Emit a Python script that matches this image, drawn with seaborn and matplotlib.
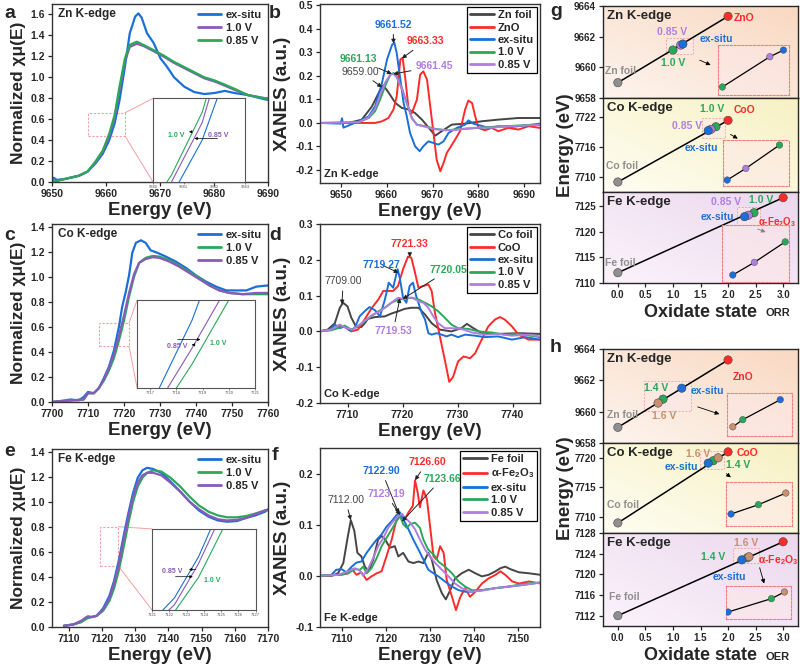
import numpy as np
import matplotlib
matplotlib.use("Agg")
import matplotlib.pyplot as plt
import seaborn as sns
from matplotlib.patches import Rectangle, ConnectionPatch
from matplotlib.colors import LinearSegmentedColormap

sns.set_style("ticks")
plt.rcParams['font.family'] = ['Liberation Sans', 'DejaVu Sans']
plt.rcParams['font.weight'] = 'bold'
plt.rcParams['axes.labelweight'] = 'bold'
plt.rcParams['mathtext.fontset'] = 'custom'
plt.rcParams['mathtext.rm'] = 'Liberation Sans:bold'
plt.rcParams['mathtext.it'] = 'Liberation Sans:bold'
plt.rcParams['mathtext.bf'] = 'Liberation Sans:bold'
plt.rcParams['axes.linewidth'] = 1.0

W, H = 800, 665

BLUE = '#1a6fd8'
GREEN = '#2aa85a'
PURPLE = '#8a5ab8'
LILAC = '#b07ee0'
RED = '#ff2a2a'
DARK = '#454545'
GREY = '#8f8f8f'
TAN = '#c8906e'

# ---------------- panel a: Zn K-edge normalized ----------------
a_ex_e = [9650, 9650.3, 9650.9, 9652.5, 9655, 9656.6, 9658.1, 9659.4, 9660.6, 9661.6, 9662.5,
          9663.5, 9664.4, 9665.4, 9666, 9666.6, 9667.6, 9668.8, 9670.1, 9671.3, 9672.6, 9674.5,
          9676.3, 9678.2, 9680.1, 9682, 9683.8, 9686.3, 9689.4, 9690.5]
a_ex_mu = [0.01, 0.04, 0.02, 0.03, 0.06, 0.1, 0.18, 0.27, 0.4, 0.56, 0.78,
           1.10, 1.42, 1.58, 1.61, 1.57, 1.42, 1.33, 1.18, 1.10, 1.0, 0.91,
           0.86, 0.84, 0.85, 0.87, 0.85, 0.83, 0.79, 0.78]
a_v_e = [9650, 9652.5, 9655, 9656.6, 9658.1, 9659.4, 9660.6, 9661.6, 9662.5, 9663.5, 9664.4,
         9665.7, 9666.9, 9668.8, 9670.6, 9672.5, 9674.4, 9676.3, 9678.2, 9680.1, 9682, 9683.8,
         9686.3, 9689.4, 9690.5]
a_085_mu = [0.0, 0.03, 0.06, 0.1, 0.2, 0.3, 0.46, 0.64, 0.91, 1.18, 1.31,
            1.34, 1.31, 1.26, 1.21, 1.15, 1.10, 1.05, 1.0, 0.97, 0.93, 0.89,
            0.83, 0.80, 0.80]
a_10_mu = [0.0, 0.03, 0.06, 0.1, 0.19, 0.29, 0.44, 0.61, 0.88, 1.15, 1.29,
           1.32, 1.30, 1.25, 1.20, 1.14, 1.09, 1.04, 0.99, 0.96, 0.92, 0.88,
           0.83, 0.80, 0.79]

# ---------------- panel c: Co K-edge normalized ----------------
c_ex_e = [7700, 7703.7, 7705.1, 7707.4, 7708.8, 7710, 7711.6, 7713, 7714.4, 7715.8, 7717.2,
          7718.6, 7719.5, 7720.5, 7721.4, 7722.3, 7723.3, 7724.7, 7726, 7727.4, 7729.3, 7731.6,
          7734.4, 7737.2, 7740, 7742.8, 7745.6, 7748.4, 7751.2, 7754, 7756.7, 7760]
c_ex_mu = [0.0, 0.013, 0.02, 0.013, 0.04, 0.08, 0.07, 0.11, 0.19, 0.28, 0.41,
           0.6, 0.76, 0.88, 1.01, 1.19, 1.27, 1.29, 1.27, 1.21, 1.19, 1.16,
           1.12, 1.07, 1.01, 0.96, 0.92, 0.89, 0.89, 0.89, 0.92, 0.93]
c_v_e = [7700, 7705.6, 7708.8, 7710, 7711.6, 7713, 7714.4, 7715.8, 7717.2, 7718.6, 7720,
         7721.4, 7722.8, 7724.2, 7726, 7727.9, 7729.8, 7732.6, 7735.3, 7738.1, 7740.9, 7743.7,
         7746.5, 7749.3, 7753, 7756.7, 7760]
c_10_mu = [0.0, 0.013, 0.02, 0.07, 0.07, 0.11, 0.17, 0.25, 0.35, 0.49, 0.65,
           0.84, 1.0, 1.11, 1.15, 1.165, 1.16, 1.13, 1.09, 1.04, 0.99, 0.93,
           0.89, 0.87, 0.86, 0.86, 0.86]
c_085_mu = [0.0, 0.013, 0.02, 0.07, 0.07, 0.11, 0.18, 0.27, 0.38, 0.53, 0.69,
            0.87, 1.02, 1.11, 1.14, 1.155, 1.15, 1.12, 1.08, 1.03, 0.98, 0.93,
            0.89, 0.87, 0.86, 0.87, 0.87]

# ---------------- panel e: Fe K-edge normalized ----------------
e_e = [7108.6, 7111.4, 7113.8, 7115.7, 7117.1, 7118.5, 7120.4, 7122.3, 7123.7, 7125.1, 7126.5,
       7128, 7129.4, 7130.8, 7132.2, 7133.6, 7135.5, 7137.9, 7140.7, 7143.6, 7146.4, 7149.2,
       7152.1, 7154.9, 7157.7, 7160.6, 7163.4, 7166.2, 7169.1, 7170.8]
e_ex_mu = [0.01, 0.02, 0.04, 0.08, 0.08, 0.09, 0.15, 0.25, 0.37, 0.53, 0.72,
           0.91, 1.07, 1.19, 1.25, 1.27, 1.26, 1.23, 1.16, 1.08, 1.0, 0.93,
           0.88, 0.85, 0.84, 0.845, 0.87, 0.89, 0.92, 0.95]
e_10_mu = [0.01, 0.02, 0.04, 0.07, 0.08, 0.09, 0.13, 0.21, 0.31, 0.45, 0.63,
           0.83, 1.0, 1.12, 1.19, 1.23, 1.25, 1.24, 1.19, 1.12, 1.04, 0.97,
           0.92, 0.89, 0.875, 0.875, 0.885, 0.905, 0.93, 0.94]
e_085_mu = [0.01, 0.02, 0.05, 0.085, 0.08, 0.09, 0.14, 0.23, 0.35, 0.5, 0.69,
            0.88, 1.04, 1.15, 1.21, 1.23, 1.23, 1.21, 1.15, 1.08, 1.0, 0.94,
            0.89, 0.86, 0.85, 0.855, 0.87, 0.9, 0.93, 0.945]

# ---------------- panel b: Zn XANES derivative ----------------
b_foil_e = [9645.6, 9651.7, 9654.6, 9656.8, 9658.6, 9659.3, 9660.4, 9661.9, 9663.3, 9664.8, 9666.2,
            9667.7, 9669.5, 9670.6, 9672, 9674.2, 9677.1, 9680.7, 9684.3, 9688.7, 9693.4]
b_foil = [0, 0, 0.014, 0.07, 0.14, 0.16, 0.13, 0.085, 0.064, 0.057, 0.042,
          0.014, -0.028, -0.054, -0.035, -0.007, -0.003, 0.007, 0.014, 0.021, 0.021]
b_zno_e = [9645.6, 9657.5, 9659, 9660.4, 9661.5, 9662.2, 9663, 9663.5, 9664.1, 9664.8, 9665.5,
           9666.6, 9667.3, 9668, 9668.8, 9669.5, 9670.2, 9670.9, 9671.7, 9672.4, 9673.1, 9673.8,
           9674.9, 9676, 9677.1, 9677.8, 9678.6, 9679.3, 9680, 9681.4, 9682.9, 9684.3, 9686.5,
           9688.7, 9690.9, 9693.4]
b_zno = [0, 0, 0.007, 0.021, 0.057, 0.113, 0.27, 0.276, 0.184, 0.057, 0.042,
         0.099, 0.205, 0.219, 0.184, 0.071, -0.042, -0.156, -0.205, -0.17, -0.127, -0.106,
         -0.071, -0.035, 0.057, 0.095, 0.085, 0.028, -0.021, -0.031, -0.021, -0.035, -0.021,
         -0.028, -0.014, -0.021]
b_ex_e = [9645.6, 9650.0, 9650.3, 9650.6, 9653.9, 9656.1, 9657.5, 9659, 9660.1, 9661.2, 9661.7,
          9662.2, 9663, 9663.7, 9664.4, 9665.1, 9666.2, 9667.2, 9668, 9669.1, 9670.2, 9671.3,
          9672.4, 9673.5, 9675.3, 9677.1, 9677.8, 9678.9, 9680.4, 9682.2, 9684.3, 9687.2, 9690.1,
          9693.4]
b_ex = [0, -0.003, 0.02, -0.02, 0.007, 0.028, 0.071, 0.17, 0.27, 0.332, 0.34,
        0.297, 0.184, 0.085, 0.028, -0.042, -0.099, -0.12, -0.099, -0.078, -0.085, -0.092,
        -0.078, -0.042, -0.021, -0.007, 0.011, -0.003, -0.011, -0.021, -0.014, -0.017, -0.011,
        -0.003]
b_v_e = [9645.6, 9653.9, 9656.1, 9657.5, 9658.6, 9659.7, 9660.8, 9661.5, 9662.2, 9663.3, 9664.4,
         9665.5, 9666.6, 9668.4, 9670.6, 9672.8, 9675, 9677.1, 9680, 9682.9, 9685.8, 9688.7,
         9693.4]
b_10 = [0, 0.003, 0.021, 0.05, 0.1, 0.158, 0.205, 0.212, 0.198, 0.149, 0.085,
        0.021, -0.007, -0.014, -0.025, -0.031, -0.028, -0.025, -0.021, -0.017, -0.014, -0.011,
        -0.007]
b_085 = [0, 0.003, 0.024, 0.06, 0.12, 0.172, 0.205, 0.208, 0.194, 0.146, 0.083,
         0.02, -0.008, -0.016, -0.027, -0.03, -0.03, -0.024, -0.02, -0.02, -0.016, -0.012,
         -0.008]
b_peaks = [9659.00, 9663.33, 9661.52, 9661.13, 9661.45]

# ---------------- panel d: Co XANES derivative ----------------
d_foil_e = [7704.9, 7706.4, 7707.7, 7708.6, 7709.2, 7710, 7710.7, 7711.6, 7712.5, 7713.1, 7713.7,
            7715, 7716.8, 7718, 7719.2, 7720.4, 7721.6, 7722.9, 7724.1, 7725.3, 7726.8, 7728.9,
            7730.7, 7731.7, 7732.9, 7734.4, 7737.4, 7741.1, 7745]
d_foil = [0, 0.005, 0.023, 0.066, 0.08, 0.07, 0.038, 0.012, 0.012, 0.022, 0.035,
          0.04, 0.042, 0.05, 0.056, 0.063, 0.066, 0.066, 0.047, 0.023, 0.005, 0,
          0.009, 0.021, 0.009, -0.005, -0.007, -0.005, -0.007]
d_coo_e = [7704.9, 7707, 7708.3, 7709.5, 7710.7, 7711.9, 7713.1, 7714.3, 7715.6, 7716.5, 7717.4,
           7718.3, 7719.2, 7720.1, 7721, 7721.6, 7722.2, 7722.9, 7723.8, 7724.7, 7725.3, 7725.9,
           7726.8, 7727.7, 7728.5, 7729.2, 7730.1, 7731.1, 7732.3, 7733.2, 7734.4, 7735.6, 7736.8,
           7737.7, 7738.6, 7739.9, 7741.1, 7742.9, 7745]
d_coo = [0, 0.005, 0.016, 0.012, 0, 0.005, 0.033, 0.063, 0.089, 0.113, 0.113,
         0.113, 0.127, 0.174, 0.209, 0.206, 0.169, 0.122, 0.127, 0.131, 0.113, 0.052,
         -0.014, -0.08, -0.141, -0.127, -0.084, -0.07, -0.075, -0.061, -0.023, 0.014, 0.033,
         0.04, 0.033, 0.014, -0.009, -0.023, -0.023]
d_ex_e = [7704.9, 7706.8, 7707.7, 7708.6, 7709.5, 7710.4, 7711.3, 7712.2, 7713.1, 7714, 7715,
          7715.9, 7716.8, 7717.5, 7718.3, 7719.1, 7719.5, 7720.1, 7720.7, 7721.3, 7721.9, 7722.5,
          7723.5, 7724.1, 7724.7, 7725.3, 7726.2, 7727.1, 7728, 7728.9, 7730.1, 7731.4, 7733.2,
          7735, 7737.4, 7739.9, 7742.3, 7745]
d_ex = [0, 0.005, 0.019, 0.009, 0.014, 0.003, 0.009, 0.042, 0.056, 0.068, 0.059,
        0.042, 0.089, 0.136, 0.122, 0.174, 0.15, 0.094, 0.08, 0.127, 0.136, 0.098,
        0.052, 0.033, -0.005, -0.009, -0.005, -0.009, -0.014, -0.009, -0.016, -0.009, -0.012,
        -0.016, -0.014, -0.023, -0.016, -0.023]
d_10_e = [7704.9, 7707, 7708.3, 7709.5, 7710.7, 7711.9, 7713.1, 7714.3, 7715.6, 7716.8, 7718,
          7719.2, 7720.4, 7721.6, 7722.9, 7724.1, 7725.3, 7726.5, 7727.7, 7728.9, 7730.1, 7732,
          7733.8, 7736.2, 7738.6, 7741.1, 7745]
d_10 = [0, 0.003, 0.009, 0.016, 0.005, 0.014, 0.028, 0.042, 0.056, 0.066, 0.08,
        0.089, 0.091, 0.094, 0.089, 0.08, 0.07, 0.056, 0.038, 0.019, 0.009, 0.007,
        0, -0.003, -0.009, -0.007, -0.016]
d_085_e = [7704.9, 7707, 7708.6, 7709.8, 7711, 7712.2, 7713.4, 7714.6, 7715.9, 7717.1, 7718.3,
           7719.2, 7720.1, 7721, 7721.9, 7722.9, 7723.8, 7724.7, 7725.6, 7726.5, 7727.7, 7728.9,
           7730.7, 7732.6, 7735, 7737.4, 7739.9, 7742.9, 7745]
d_085 = [0, 0.005, 0.019, 0.009, 0.005, 0.019, 0.033, 0.047, 0.056, 0.07, 0.084,
         0.094, 0.091, 0.094, 0.094, 0.084, 0.08, 0.066, 0.042, 0.023, 0.009, 0.009,
         0.007, -0.003, -0.009, -0.007, -0.012, -0.009, -0.014]
d_peaks = [7709.00, 7721.33, 7719.27, 7720.05, 7719.53]

# ---------------- panel f: Fe XANES derivative ----------------
f_foil_e = [7104.9, 7107.6, 7109.1, 7110.3, 7111.2, 7112, 7112.8, 7113.5, 7114.4, 7115.2, 7116,
            7117.1, 7118.2, 7119, 7119.8, 7120.9, 7122, 7122.8, 7123.9, 7125.1, 7126.2, 7127.4,
            7128.5, 7129.6, 7130.4, 7131.5, 7132.7, 7133.6, 7134.6, 7135.7, 7137.2, 7138.8,
            7140.3, 7141.8, 7143.3, 7144.9, 7146, 7147.1, 7148.3, 7150.2, 7152.5, 7155.1]
f_foil = [0, 0, 0.005, 0.025, 0.071, 0.109, 0.088, 0.045, 0.038, 0.018, 0.009,
          0.032, 0.071, 0.078, 0.071, 0.055, 0.058, 0.038, 0.045, 0.028, 0.025, 0.028,
          0.025, 0.045, 0.032, -0.008, -0.034, -0.046, -0.028, -0.005, 0.005, 0.012,
          0.005, -0.001, 0.002, 0.009, 0.015, 0.018, 0.013, 0.007, 0.005, 0.002]
f_ox_e = [7104.9, 7109.9, 7111.4, 7112.3, 7113.3, 7114.4, 7115.6, 7116.7, 7117.9, 7119, 7120.1,
          7121.3, 7122.4, 7123.6, 7124.3, 7125.1, 7126.1, 7126.6, 7127.2, 7127.7, 7128.5, 7129.3,
          7130, 7130.8, 7131.5, 7132.3, 7133.1, 7133.8, 7135, 7135.9, 7136.9, 7138, 7139.1,
          7140.3, 7141.8, 7143.3, 7144.9, 7146, 7147.1, 7148.7, 7150.2, 7152.5, 7155.1]
f_ox = [0, 0.002, 0.005, 0.013, 0.002, 0.007, -0.008, -0.001, 0.005, 0.009, 0.038,
        0.071, 0.111, 0.121, 0.111, 0.124, 0.137, 0.187, 0.163, 0.134, 0.167, 0.15,
        0.098, 0.038, 0.032, 0.058, 0.045, -0.008, -0.041, -0.067, -0.041, -0.024, -0.041,
        -0.031, -0.015, -0.005, 0.002, 0.009, 0.002, -0.011, -0.015, -0.011, -0.015]
f_ex_e = [7104.9, 7107.6, 7108.7, 7109.9, 7111, 7112.2, 7113.3, 7114.4, 7115.6, 7116.7, 7117.9,
          7119, 7120.1, 7121.3, 7122.4, 7123.2, 7123.9, 7125.1, 7126.2, 7127.4, 7128.5, 7129.6,
          7130.8, 7131.9, 7133.4, 7135, 7136.5, 7138, 7139.5, 7141.8, 7144.9, 7147.9, 7150.9,
          7155.1]
f_ex = [0, 0.002, 0.012, 0.013, 0.007, 0.018, 0.026, 0.028, 0.045, 0.058, 0.071,
        0.081, 0.096, 0.107, 0.119, 0.124, 0.111, 0.091, 0.071, 0.051, 0.032, 0.012,
        0.005, -0.001, -0.011, -0.021, -0.028, -0.031, -0.031, -0.028, -0.024, -0.021, -0.018,
        -0.013]
f_10_e = [7104.9, 7109.1, 7111.4, 7112.9, 7114.1, 7114.8, 7115.6, 7116.7, 7117.9, 7119, 7120.1,
          7121.3, 7122.4, 7123.2, 7123.9, 7124.7, 7125.5, 7126.6, 7127.7, 7128.5, 7129.6, 7130.8,
          7131.9, 7133.4, 7135, 7136.5, 7138, 7139.5, 7141.8, 7144.9, 7147.9, 7150.9, 7155.1]
f_10 = [0, 0.002, 0.005, 0.013, 0.012, 0.018, 0.005, 0.015, 0.035, 0.058, 0.074,
        0.091, 0.107, 0.117, 0.101, 0.094, 0.101, 0.104, 0.094, 0.071, 0.051, 0.042,
        0.028, 0.018, 0.005, -0.011, -0.021, -0.028, -0.028, -0.024, -0.021, -0.016, -0.013]
f_085_e = [7104.9, 7109.1, 7111.4, 7112.9, 7114.1, 7114.8, 7116, 7117.1, 7118.2, 7119.4, 7120.5,
           7121.7, 7122.8, 7123.6, 7124.3, 7125.5, 7126.6, 7127.7, 7128.9, 7130, 7131.2, 7132.7,
           7134.2, 7135.7, 7137.2, 7139.1, 7141.8, 7144.9, 7147.9, 7150.9, 7155.1]
f_085 = [0, 0.002, 0.009, 0.015, 0.01, 0, 0.015, 0.035, 0.058, 0.074, 0.094,
         0.107, 0.117, 0.121, 0.114, 0.104, 0.091, 0.071, 0.051, 0.038, 0.025, 0.012,
         -0.001, -0.015, -0.024, -0.031, -0.029, -0.024, -0.021, -0.018, -0.013]
f_peaks = [7112.00, 7126.60, 7122.90, 7123.66, 7123.19]

# ---------------- panels g / h: edge energy vs oxidation state ----------------
# order: foil, potential 1, potential 2, ex-situ, oxide
g_zn_x = [0.0, 1.0, 1.14, 1.18, 2.0]
g_zn_e = [9659.00, 9661.13, 9661.45, 9661.52, 9663.33]
g_co_x = [0.0, 1.78, 1.69, 1.64, 2.0]
g_co_e = [7709.00, 7720.05, 7719.53, 7719.27, 7721.33]
g_fe_x = [0.0, 2.47, 2.37, 2.30, 3.0]
g_fe_e = [7112.00, 7123.66, 7123.19, 7122.90, 7126.60]
h_zn_x = [0.0, 0.82, 0.73, 1.16, 2.0]
h_zn_e = [9659.0, 9660.8, 9660.55, 9661.5, 9663.3]
h_co_x = [0.0, 1.73, 1.82, 1.64, 2.0]
h_co_e = [7709.0, 7719.5, 7720.0, 7719.1, 7721.0]
h_fe_x = [0.0, 2.35, 2.38, 2.25, 3.0]
h_fe_e = [7112.0, 7123.2, 7123.4, 7122.8, 7126.3]

fig = plt.figure(figsize=(8, 6.65), dpi=100)


def px_axes(l, t, r, b):
    return fig.add_axes([l / W, 1 - b / H, (r - l) / W, (b - t) / H])


def curve(ax, e, y, color, label=None, lw=1.5):
    sns.lineplot(x=e, y=y, ax=ax, color=color, lw=lw, label=label,
                 sort=False, estimator=None, legend=False)


def base_style(ax, xlim, ylim, xticks, yticks, fmt='%.1f'):
    ax.set_xlim(xlim)
    ax.set_ylim(ylim)
    ax.set_xticks(xticks)
    ax.set_yticks(yticks)
    ax.set_yticklabels([fmt % v for v in yticks])
    ax.tick_params(labelsize=7.5, length=3, width=0.9, pad=2, direction='out')
    for s in ax.spines.values():
        s.set_linewidth(1.0)
        s.set_color('#333333')
    ax.set_xlabel('Energy (eV)', fontsize=13.5, labelpad=2)


def spectra_inset(ax, rect, curves, xlim, ylim, xticks, box, texts, arrows):
    ins = ax.inset_axes(rect)
    for e, y, c in curves:
        curve(ins, e, y, c, lw=0.8)
    ins.set_xlim(xlim)
    ins.set_ylim(ylim)
    ins.set_xticks(xticks)
    ins.set_xticklabels([str(t) for t in xticks], fontsize=3, fontweight='normal')
    ins.set_yticks([])
    ins.tick_params(length=1.5, width=0.5, pad=1, colors='#555555')
    ins.set_xlabel('')
    ins.set_ylabel('')
    for s in ins.spines.values():
        s.set_linewidth(0.8)
        s.set_color('#555555')
    for t, x, y, c in texts:
        ins.text(x, y, t, transform=ins.transAxes, color=c, fontsize=5, va='center')
    for (x0, y0), (x1, y1) in arrows:
        ins.annotate('', xy=(x1, y1), xytext=(x0, y0), xycoords='axes fraction',
                     arrowprops=dict(arrowstyle='-|>', color='k', lw=0.5, mutation_scale=4))
    (bx0, bx1), (by0, by1) = box
    ax.add_patch(Rectangle((bx0, by0), bx1 - bx0, by1 - by0, fill=False, ec='#f4a0a0',
                           lw=0.8, ls=(0, (2, 1.5))))
    for yy, iy in ((by1, 1), (by0, 0)):
        con = ConnectionPatch(xyA=(bx1, yy), coordsA=ax.transData, xyB=(0, iy),
                              coordsB=ins.transAxes, color='#f4a0a0', lw=0.7)
        ax.add_artist(con)


def norm_panel(ax, curves, legend_order, xlim, ylim, xticks, yticks, edge):
    for e, y, c, lab in curves:
        curve(ax, e, y, c, label=lab, lw=1.6)
    base_style(ax, xlim, ylim, xticks, yticks)
    ax.set_ylabel('Normalized χμ(E)', fontsize=12.5, labelpad=3)
    ax.text(0.03, 0.975, edge, transform=ax.transAxes, va='top', fontsize=8.5)
    hd, lb = ax.get_legend_handles_labels()
    order = [lb.index(l) for l in legend_order]
    leg = ax.legend([hd[i] for i in order], [lb[i] for i in order], loc='upper right',
                    frameon=False, fontsize=8, handlelength=2.1, labelspacing=0.25,
                    borderaxespad=0.15, handletextpad=0.4)
    for ln in leg.get_lines():
        ln.set_linewidth(2.0)


def xanes_panel(ax, curves, xlim, ylim, xticks, yticks, edge, notes):
    for e, y, c, lab in curves:
        curve(ax, e, y, c, label=lab, lw=1.4)
    base_style(ax, xlim, ylim, xticks, yticks)
    ax.set_ylabel('XANES (a.u.)', fontsize=13.5, labelpad=3)
    ax.text(0.02, 0.02, edge, transform=ax.transAxes, va='bottom', fontsize=8)
    leg = ax.legend(loc='upper right', frameon=True, fancybox=False, edgecolor='k',
                    framealpha=1, fontsize=8, handlelength=2.2, labelspacing=0.22,
                    borderaxespad=0.25, handletextpad=0.3, borderpad=0.3)
    leg.get_frame().set_linewidth(0.9)
    for ln in leg.get_lines():
        ln.set_linewidth(2.0)
    for (e, y, c), peak, (tx, ty), ha in notes:
        py = np.interp(peak, e, y)
        wt = 'normal' if c == DARK else 'bold'
        ax.annotate('%.2f' % peak, xy=(peak, py), xytext=(tx, ty), color=c, fontsize=7.5,
                    ha=ha, va='center', fontweight=wt,
                    arrowprops=dict(arrowstyle='-|>', color='#222222', lw=0.7,
                                    mutation_scale=6, shrinkA=1, shrinkB=0))


# ---------------- draw a ----------------
ax_a = px_axes(52, 4, 268, 182)
norm_panel(ax_a, [(a_ex_e, a_ex_mu, BLUE, 'ex-situ'), (a_v_e, a_10_mu, PURPLE, '1.0 V'),
                  (a_v_e, a_085_mu, GREEN, '0.85 V')],
           ['ex-situ', '1.0 V', '0.85 V'], (9650, 9690), (0, 1.7),
           [9650, 9660, 9670, 9680, 9690], [0, 0.2, 0.4, 0.6, 0.8, 1.0, 1.2, 1.4, 1.6], 'Zn K-edge')
spectra_inset(ax_a, [0.468, 0.0, 0.426, 0.47],
              [(a_v_e, a_085_mu, GREEN), (a_v_e, a_10_mu, PURPLE), (a_ex_e, a_ex_mu, BLUE)],
              (9660, 9663), (0.44, 0.68), [9660, 9661, 9662, 9663],
              ((9656.6, 9663.5), (0.44, 0.66)),
              [('1.0 V', 0.16, 0.55, GREEN), ('0.85 V', 0.6, 0.56, PURPLE)],
              [((0.45, 0.6), (0.36, 0.6)), ((0.73, 0.52), (0.42, 0.52))])

# ---------------- draw c ----------------
ax_c = px_axes(52, 224, 268, 402)
norm_panel(ax_c, [(c_ex_e, c_ex_mu, BLUE, 'ex-situ'), (c_v_e, c_10_mu, GREEN, '1.0 V'),
                  (c_v_e, c_085_mu, PURPLE, '0.85 V')],
           ['ex-situ', '1.0 V', '0.85 V'], (7700, 7760), (0, 1.42),
           [7700, 7710, 7720, 7730, 7740, 7750, 7760], [0, 0.2, 0.4, 0.6, 0.8, 1.0, 1.2, 1.4],
           'Co K-edge')
spectra_inset(ax_c, [0.394, 0.079, 0.546, 0.494],
              [(c_ex_e, c_ex_mu, BLUE), (c_v_e, c_085_mu, PURPLE), (c_v_e, c_10_mu, GREEN)],
              (7716.5, 7721), (0.43, 0.65), [7717, 7718, 7719, 7720, 7721],
              ((7713, 7721.4), (0.445, 0.63)),
              [('0.85 V', 0.25, 0.47, PURPLE), ('1.0 V', 0.62, 0.5, GREEN)],
              [((0.32, 0.55), (0.56, 0.55)), ((0.5, 0.49), (0.44, 0.49))])

# ---------------- draw e ----------------
ax_e = px_axes(52, 449, 268, 627)
norm_panel(ax_e, [(e_e, e_ex_mu, BLUE, 'ex-situ'), (e_e, e_10_mu, GREEN, '1.0 V'),
                  (e_e, e_085_mu, PURPLE, '0.85 V')],
           ['ex-situ', '1.0 V', '0.85 V'], (7105, 7170), (0, 1.42),
           [7110, 7120, 7130, 7140, 7150, 7160, 7170], [0, 0.2, 0.4, 0.6, 0.8, 1.0, 1.2, 1.4],
           'Fe K-edge')
spectra_inset(ax_e, [0.463, 0.096, 0.48, 0.455],
              [(e_e, e_ex_mu, BLUE), (e_e, e_085_mu, PURPLE), (e_e, e_10_mu, GREEN)],
              (7121, 7127), (0.215, 0.45), [7121, 7122, 7123, 7124, 7125, 7126, 7127],
              ((7119.3, 7125), (0.485, 0.8)),
              [('0.85 V', 0.1, 0.47, PURPLE), ('1.0 V', 0.5, 0.36, GREEN)],
              [((0.45, 0.5), (0.33, 0.5)), ((0.2, 0.41), (0.42, 0.41))])

# ---------------- draw b ----------------
ax_b = px_axes(320, 4, 540, 183)
xanes_panel(ax_b, [(b_foil_e, b_foil, DARK, 'Zn foil'), (b_zno_e, b_zno, RED, 'ZnO'),
                   (b_ex_e, b_ex, BLUE, 'ex-situ'), (b_v_e, b_10, GREEN, '1.0 V'),
                   (b_v_e, b_085, LILAC, '0.85 V')],
            (9645.5, 9693.4), (-0.255, 0.505), [9650, 9660, 9670, 9680, 9690],
            [-0.2, -0.1, 0.0, 0.1, 0.2, 0.3, 0.4, 0.5], 'Zn K-edge',
            [((b_foil_e, b_foil, DARK), b_peaks[0], (9654.3, 0.218), 'center'),
             ((b_zno_e, b_zno, RED), b_peaks[1], (9668.4, 0.347), 'center'),
             ((b_ex_e, b_ex, BLUE), b_peaks[2], (9661.4, 0.417), 'center'),
             ((b_v_e, b_10, GREEN), b_peaks[3], (9653.8, 0.27), 'center'),
             ((b_v_e, b_085, LILAC), b_peaks[4], (9670.4, 0.24), 'center')])

# ---------------- draw d ----------------
ax_d = px_axes(320, 224, 540, 403)
xanes_panel(ax_d, [(d_foil_e, d_foil, DARK, 'Co foil'), (d_coo_e, d_coo, RED, 'CoO'),
                   (d_ex_e, d_ex, BLUE, 'ex-situ'), (d_10_e, d_10, GREEN, '1.0 V'),
                   (d_085_e, d_085, LILAC, '0.85 V')],
            (7705, 7745), (-0.2, 0.3), [7710, 7720, 7730, 7740],
            [-0.2, -0.1, 0.0, 0.1, 0.2, 0.3], 'Co K-edge',
            [((d_foil_e, d_foil, DARK), d_peaks[0], (7709.2, 0.14), 'center'),
             ((d_coo_e, d_coo, RED), d_peaks[1], (7721.3, 0.245), 'center'),
             ((d_ex_e, d_ex, BLUE), d_peaks[2], (7716.2, 0.186), 'center'),
             ((d_10_e, d_10, GREEN), d_peaks[3], (7731.8, 0.172), 'right'),
             ((d_085_e, d_085, LILAC), d_peaks[4], (7718.3, 0.0), 'center')])

# ---------------- draw f ----------------
ax_f = px_axes(320, 448, 540, 627)
xanes_panel(ax_f, [(f_foil_e, f_foil, DARK, 'Fe foil'),
                   (f_ox_e, f_ox, RED, r'α-Fe$_2$O$_3$'),
                   (f_ex_e, f_ex, BLUE, 'ex-situ'), (f_10_e, f_10, GREEN, '1.0 V'),
                   (f_085_e, f_085, LILAC, '0.85 V')],
            (7105, 7155), (-0.1, 0.25), [7110, 7120, 7130, 7140, 7150],
            [-0.1, 0.0, 0.1, 0.2], 'Fe K-edge',
            [((f_foil_e, f_foil, DARK), f_peaks[0], (7110.8, 0.148), 'center'),
             ((f_ox_e, f_ox, RED), f_peaks[1], (7129.3, 0.222), 'center'),
             ((f_ex_e, f_ex, BLUE), f_peaks[2], (7119.0, 0.205), 'center'),
             ((f_10_e, f_10, GREEN), f_peaks[3], (7137.0, 0.19), 'right'),
             ((f_085_e, f_085, LILAC), f_peaks[4], (7120.0, 0.16), 'center')])


# ---------------- g / h ----------------
def gradient_bg(ax, c0, c1):
    cmap = LinearSegmentedColormap.from_list('bg', [c0, c1])
    g = np.add.outer(np.linspace(1, 0, 50), np.linspace(0, 1, 80)) / 2
    ax.imshow(g, extent=[0, 1, 0, 1], transform=ax.transAxes, aspect='auto',
              cmap=cmap, zorder=0, interpolation='bicubic')


def state_axes(ax, xs, es, cols, ylim, yticks, edge, texts, small, arrow, big, zoom, bg):
    gradient_bg(ax, *bg)
    sns.lineplot(x=[xs[0], xs[-1]], y=[es[0], es[-1]], ax=ax, color='k', lw=1.1,
                 estimator=None, sort=False, zorder=2)
    keys = ['p%d' % i for i in range(len(xs))]
    pal = dict(zip(keys, cols))
    sns.scatterplot(x=xs, y=es, hue=keys, palette=pal, ax=ax, s=36, edgecolor='#444444',
                    linewidth=0.4, legend=False, zorder=3)
    ax.set_xlim(-0.27, 3.27)
    ax.set_ylim(ylim)
    ax.set_yticks(yticks)
    ax.set_xticks([0, 0.5, 1.0, 1.5, 2.0, 2.5, 3.0])
    ax.set_xticklabels(['0.0', '0.5', '1.0', '1.5', '2.0', '2.5', '3.0'])
    ax.tick_params(labelsize=7, length=3, width=0.9, pad=2)
    ax.set_xlabel('')
    ax.set_ylabel('')
    ax.text(0.02, 0.96, edge, transform=ax.transAxes, va='top', fontsize=9.5)
    for t, x, y, c, ha in texts:
        ax.text(x, y, t, color=c, fontsize=7.5, ha=ha, va='center', zorder=4)
    (sx0, sx1), (sy0, sy1) = small
    ax.add_patch(Rectangle((sx0, sy0), sx1 - sx0, sy1 - sy0, fc='#fde8e8', ec='#f08080',
                           lw=0.7, ls=(0, (2, 1.5)), alpha=0.6, zorder=1))
    ax.annotate('', xy=arrow[1], xytext=arrow[0],
                arrowprops=dict(arrowstyle='-|>', color='k', lw=0.6, mutation_scale=6))
    (bx0, bx1), (by0, by1) = big
    ins = ax.inset_axes([bx0, by0, bx1 - bx0, by1 - by0], transform=ax.transData)
    ins.set_facecolor('#fde6e6')
    ins.patch.set_alpha(0.55)
    mids = sorted(zip(xs[1:4], es[1:4]))
    sns.lineplot(x=[m[0] for m in mids], y=[m[1] for m in mids], ax=ins, color='k', lw=0.9,
                 estimator=None, sort=False)
    sns.scatterplot(x=xs[1:4], y=es[1:4], hue=keys[1:4], palette=pal, ax=ins, s=22,
                    edgecolor='#444444', linewidth=0.3, legend=False, zorder=3)
    ins.set_xlim(zoom[0])
    ins.set_ylim(zoom[1])
    ins.set_xticks([])
    ins.set_yticks([])
    ins.set_xlabel('')
    ins.set_ylabel('')
    for s in ins.spines.values():
        s.set_color('#f08080')
        s.set_linewidth(0.8)
        s.set_linestyle((0, (2, 1.5)))


BG_ZN = ('#fdf4ee', '#f9d9c2')
BG_CO = ('#fefdf2', '#f8f1c4')
BG_FE = ('#fbf3fb', '#ecd8ee')
FE2O3 = r'α-Fe$_2$O$_3$'

g_cols = [GREY, GREEN, LILAC, BLUE, RED]
h_cols = [GREY, GREEN, TAN, BLUE, RED]

g1 = px_axes(603, 6, 798, 98)
g2 = px_axes(603, 98, 798, 192)
g3 = px_axes(603, 192, 798, 283)
state_axes(g1, g_zn_x, g_zn_e, g_cols, (9658, 9664), [9658, 9660, 9662, 9664], 'Zn K-edge',
           [('Zn foil', 0.05, 9659.75, GREY, 'center'), ('0.85 V', 0.98, 9662.3, LILAC, 'center'),
            ('ex-situ', 1.78, 9661.85, BLUE, 'center'), ('1.0 V', 1.0, 9660.3, GREEN, 'center'),
            ('ZnO', 2.1, 9663.2, RED, 'left')],
           ((0.87, 1.36), (9660.86, 9661.9)), ((1.44, 9660.54), (1.73, 9660.08)),
           ((1.82, 3.11), (9658.2, 9661.45)), ((0.9875, 1.197), (9661.046, 9661.573)), BG_ZN)
state_axes(g2, g_co_x, g_co_e, g_cols, (7707, 7725.8), [7710, 7716, 7722], 'Co K-edge',
           [('Co foil', 0.08, 7712.2, GREY, 'center'), ('0.85 V', 1.25, 7720.2, LILAC, 'center'),
            ('1.0 V', 1.72, 7723.6, GREEN, 'center'), ('CoO', 2.1, 7723.4, RED, 'left'),
            ('ex-situ', 1.52, 7715.8, BLUE, 'center')],
           ((1.53, 1.95), (7717.8, 7721.8)), ((2.0, 7718.8), (2.22, 7717.4)),
           ((1.91, 3.11), (7708.2, 7717.4)), ((1.629, 1.806), (7719.137, 7720.163)), BG_CO)
state_axes(g3, g_fe_x, g_fe_e, g_cols, (7110, 7127.7), [7110, 7115, 7120, 7125], 'Fe K-edge',
           [('Fe foil', 0.05, 7113.9, GREY, 'center'), ('ex-situ', 1.8, 7122.8, BLUE, 'center'),
            ('0.85 V', 1.97, 7125.7, LILAC, 'center'), ('1.0 V', 2.6, 7126.1, GREEN, 'center')],
           ((2.16, 2.58), (7121.3, 7124.7)), ((2.49, 7120.7), (2.73, 7119.7)),
           ((1.89, 3.11), (7110.2, 7121.3)), ((2.265, 2.483), (7122.74, 7124.05)), BG_FE)
g3.text(0.992, 7121.9, FE2O3, transform=g3.get_yaxis_transform(), color=RED, fontsize=7,
        ha='right', va='center', zorder=4)

h1 = px_axes(603, 349, 798, 443)
h2 = px_axes(603, 443, 798, 533)
h3 = px_axes(603, 533, 798, 626)
state_axes(h1, h_zn_x, h_zn_e, h_cols, (9658, 9664), [9658, 9660, 9662, 9664], 'Zn K-edge',
           [('Zn foil', 0.08, 9659.8, GREY, 'center'), ('1.4 V', 0.7, 9661.5, GREEN, 'center'),
            ('1.6 V', 0.84, 9659.7, TAN, 'center'), ('ex-situ', 1.63, 9661.3, BLUE, 'center'),
            ('ZnO', 2.27, 9662.2, RED, 'center')],
           ((0.47, 1.33), (9660.04, 9661.96)), ((1.4, 9660.36), (1.89, 9659.79)),
           ((1.98, 3.16), (9658.45, 9661.2)), ((0.677, 1.266), (9660.23, 9661.74)), BG_ZN)
state_axes(h2, h_co_x, h_co_e, h_cols, (7707.3, 7722.5), [7710, 7715, 7720], 'Co K-edge',
           [('Co foil', 0.1, 7712.0, GREY, 'center'), ('1.6 V', 1.46, 7720.6, TAN, 'center'),
            ('CoO', 2.35, 7720.8, RED, 'center'), ('ex-situ', 1.15, 7718.4, BLUE, 'center'),
            ('1.4 V', 2.18, 7718.7, GREEN, 'center')],
           ((1.49, 1.93), (7718.1, 7721.15)), ((1.93, 7717.6), (2.09, 7716.4)),
           ((1.96, 3.16), (7708.5, 7715.9)), ((1.623, 1.840), (7718.59, 7720.47)), BG_CO)
state_axes(h3, h_fe_x, h_fe_e, h_cols, (7110, 7128), [7112, 7116, 7120, 7124, 7128], 'Fe K-edge',
           [('Fe foil', 0.11, 7115.6, GREY, 'center'), ('1.4 V', 1.73, 7123.4, GREEN, 'center'),
            ('1.6 V', 2.33, 7126.1, TAN, 'center'), ('ex-situ', 2.02, 7119.5, BLUE, 'center'),
            (FE2O3, 2.55, 7122.8, RED, 'left')],
           ((2.09, 2.56), (7122.2, 7125.1)), ((2.56, 7121.8), (2.67, 7117.7)),
           ((1.96, 3.15), (7111.35, 7117.75)), ((2.245, 2.396), (7122.59, 7123.58)), BG_FE)

for top_ax in (g1, g2, h1, h2):
    top_ax.tick_params(labelbottom=False)
for bot in (g3, h3):
    bot.set_xlabel('Oxidate state', fontsize=13, labelpad=3)

fig.text(565 / W, 1 - 145 / H, 'Energy (eV)', rotation=90, fontsize=13.5, va='center', ha='center')
fig.text(565 / W, 1 - 488 / H, 'Energy (eV)', rotation=90, fontsize=13.5, va='center', ha='center')
fig.text(778 / W, 1 - 313 / H, 'ORR', fontsize=8, ha='center', va='center')
fig.text(778 / W, 1 - 657 / H, 'OER', fontsize=8, ha='center', va='center')

for lab, x, y in [('a', 10, 14), ('b', 275, 14), ('c', 10, 236), ('d', 275, 236),
                  ('e', 10, 452), ('f', 275, 455), ('g', 556, 12), ('h', 556, 348)]:
    fig.text(x / W, 1 - y / H, lab, fontsize=14, ha='center', va='center')

fig.savefig('out.png', dpi=100)
